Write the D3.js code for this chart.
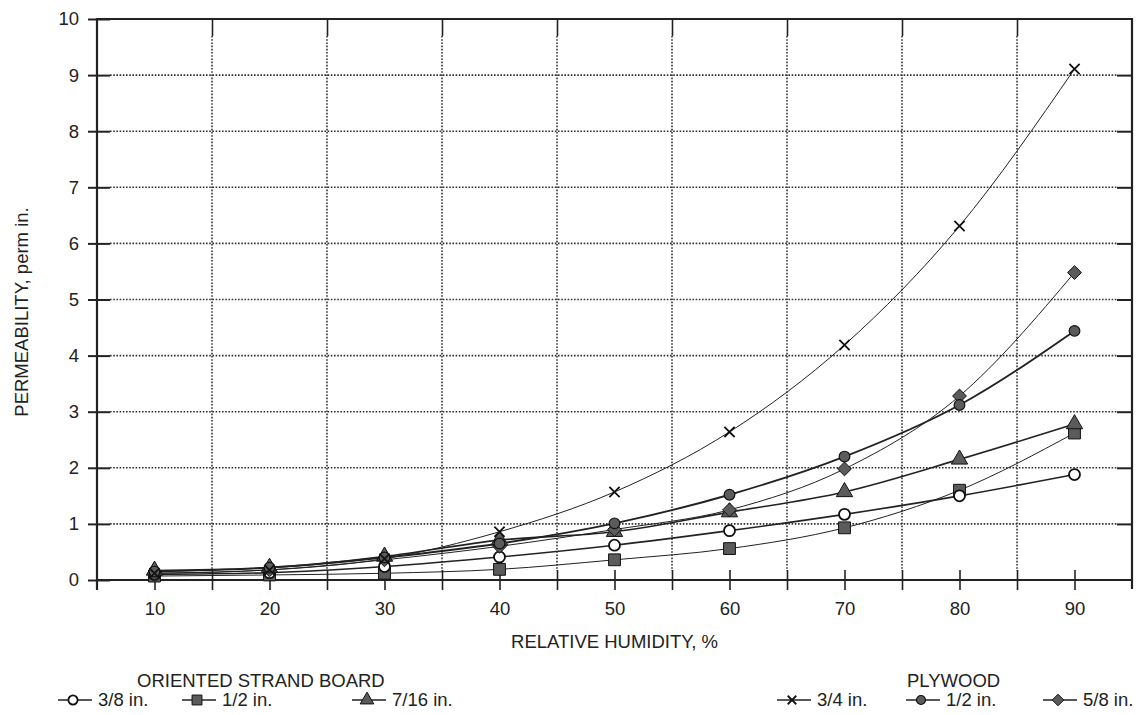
<!DOCTYPE html>
<html>
<head>
<meta charset="utf-8">
<script src="https://cdn.jsdelivr.net/npm/d3@7"></script>
<style>
  html, body { margin: 0; padding: 0; background: #fff; }
  svg { display: block; }
  text { font-family: "Liberation Sans", Arial, sans-serif; fill: #222; }
</style>
</head>
<body>
<svg id="chart" width="1140" height="715"></svg>
<script>
// Relative humidity (%) at which each material was measured
const humidity = [10, 20, 30, 40, 50, 60, 70, 80, 90];

// Permeability, perm in. — oriented strand board
const osb38  = [0.10, 0.13, 0.24, 0.41, 0.62, 0.88, 1.17, 1.50, 1.88];
const osb12  = [0.07, 0.09, 0.12, 0.19, 0.36, 0.56, 0.93, 1.60, 2.62];
const osb716 = [0.17, 0.22, 0.42, 0.71, 0.86, 1.21, 1.57, 2.15, 2.78];

// Permeability, perm in. — plywood
const ply34 = [0.12, 0.18, 0.38, 0.86, 1.57, 2.64, 4.19, 6.31, 9.11];
const ply12 = [0.15, 0.22, 0.40, 0.65, 1.01, 1.52, 2.20, 3.12, 4.44];
const ply58 = [0.12, 0.18, 0.36, 0.60, 0.90, 1.25, 1.98, 3.28, 5.48];

// Axis ticks and labels
const xLabelTicks = [10, 20, 30, 40, 50, 60, 70, 80, 90];
const xGridTicks  = [15, 25, 35, 45, 55, 65, 75, 85];
const yTicks      = [0, 1, 2, 3, 4, 5, 6, 7, 8, 9, 10];
const xTitle = "RELATIVE HUMIDITY, %";
const yTitle = "PERMEABILITY, perm in.";
const groupTitles = ["ORIENTED STRAND BOARD", "PLYWOOD"];

const seriesNames  = ["3/8 in.", "1/2 in.", "7/16 in.", "3/4 in.", "1/2 in.", "5/8 in."];
const seriesValues = [osb38, osb12, osb716, ply34, ply12, ply58];
const seriesGroup  = [0, 0, 0, 1, 1, 1];

// ---- drawing ----
const svg = d3.select("#chart");
const W = 1140, H = 715;
const pLeft = 97, pRight = 1132, pTop = 19, pBottom = 580;
const FONT = 18.5;
const ink = "#222";
const markFill = "#5b5b5b";

svg.append("rect").attr("width", W).attr("height", H).attr("fill", "#fff");

const x = d3.scaleLinear().domain([5, 95]).range([pLeft, pRight]);
const y = d3.scaleLinear().domain([0, 10]).range([pBottom, pTop]);

// a square turned on its corner (equal diagonals)
const symbolRhomb = {
  draw(ctx, size) {
    const r = Math.sqrt(size / 2);
    ctx.moveTo(0, -r); ctx.lineTo(r, 0); ctx.lineTo(0, r); ctx.lineTo(-r, 0); ctx.closePath();
  }
};

// marker style per series
const styles = [
  { sym: d3.symbolCircle,   size: 95,  fill: "#fff",   sw: 1.8, lw: 1.6 },
  { sym: d3.symbolSquare,   size: 140, fill: markFill, sw: 1.0, lw: 1.0 },
  { sym: d3.symbolTriangle, size: 115, fill: markFill, sw: 1.0, lw: 1.6 },
  { sym: d3.symbolTimes,    size: 70,  fill: "none",   sw: 1.8, lw: 1.0 },
  { sym: d3.symbolCircle,   size: 90,  fill: markFill, sw: 1.2, lw: 1.9 },
  { sym: symbolRhomb,       size: 95,  fill: markFill, sw: 1.0, lw: 1.0 }
];

// grid: dotted lines
const grid = svg.append("g").attr("stroke", "#333").attr("stroke-width", 1.6)
  .attr("stroke-dasharray", "1.6,1.6");
grid.selectAll("line.h").data(yTicks.filter(d => d > 0 && d < 10)).join("line")
  .attr("x1", pLeft + 13).attr("x2", pRight - 15)
  .attr("y1", d => y(d)).attr("y2", d => y(d));
grid.selectAll("line.v").data(xGridTicks).join("line")
  .attr("x1", d => x(d)).attr("x2", d => x(d))
  .attr("y1", pTop + 17).attr("y2", pBottom - 9);

// frame
svg.append("path")
  .attr("d", `M${pLeft},${pBottom + 10}V${pTop}H${pRight}V${pBottom + 9}`)
  .attr("fill", "none").attr("stroke", ink).attr("stroke-width", 2.2);

// bottom axis with labelled ticks
const xAxis = svg.append("g").attr("transform", `translate(0,${pBottom})`)
  .call(d3.axisBottom(x).tickValues(xLabelTicks).tickSize(10).tickPadding(12).tickFormat(d3.format("d")));
const xMinor = svg.append("g").attr("transform", `translate(0,${pBottom})`)
  .call(d3.axisBottom(x).tickValues(xGridTicks).tickSize(10).tickFormat(""));
[xAxis, xMinor].forEach(g => {
  g.select(".domain").attr("d", `M${pLeft},0H${pRight}`).attr("stroke", ink).attr("stroke-width", 2.2);
  g.selectAll(".tick line").attr("y1", -10).attr("stroke", ink).attr("stroke-width", 1.6);
});
xAxis.selectAll(".tick text").attr("font-size", FONT).attr("fill", ink).attr("font-family", "Liberation Sans, Arial, sans-serif");

// top ticks at grid positions
svg.append("g").attr("transform", `translate(0,${pTop})`)
  .call(d3.axisTop(x).tickValues(xGridTicks).tickSize(-17).tickFormat(""))
  .call(g => g.select(".domain").remove())
  .call(g => g.selectAll(".tick line").attr("stroke", ink).attr("stroke-width", 1.6));

// left axis
const yAxis = svg.append("g").attr("transform", `translate(${pLeft},0)`)
  .call(d3.axisLeft(y).tickValues(yTicks).tickSize(9).tickPadding(9).tickFormat(d3.format("d")));
yAxis.select(".domain").remove();
yAxis.selectAll(".tick line").attr("x1", 13).attr("stroke", ink).attr("stroke-width", 2);
yAxis.selectAll(".tick text").attr("font-size", FONT).attr("fill", ink).attr("font-family", "Liberation Sans, Arial, sans-serif");

// right inner ticks
svg.append("g").attr("transform", `translate(${pRight},0)`)
  .call(d3.axisRight(y).tickValues(yTicks.filter(d => d > 0 && d < 10)).tickSize(-15).tickFormat(""))
  .call(g => g.select(".domain").remove())
  .call(g => g.selectAll(".tick line").attr("stroke", ink).attr("stroke-width", 2));

// axis titles
svg.append("text").attr("x", (x(50))).attr("y", 648).attr("text-anchor", "middle")
  .attr("font-size", FONT).text(xTitle);
svg.append("text").attr("transform", `translate(28,312) rotate(-90)`).attr("text-anchor", "middle")
  .attr("font-size", FONT).text(yTitle);

// series lines
const line = d3.line().x(d => x(d[0])).y(d => y(d[1])).curve(d3.curveMonotoneX);
seriesValues.forEach((vals, i) => {
  svg.append("path")
    .attr("d", line(humidity.map((h, j) => [h, vals[j]])))
    .attr("fill", "none").attr("stroke", ink).attr("stroke-width", styles[i].lw);
});

// series markers
function drawMarker(g, i, cx, cy, scale) {
  const s = styles[i];
  g.append("path")
    .attr("d", d3.symbol(s.sym, s.size * scale)())
    .attr("transform", `translate(${cx},${cy})`)
    .attr("fill", s.fill)
    .attr("stroke", "#111")
    .attr("stroke-width", s.sw);
}
const marks = svg.append("g");
[1, 0, 2, 5, 4, 3].forEach(i => {
  seriesValues[i].forEach((v, j) => drawMarker(marks, i, x(humidity[j]), y(v), 1));
});

// legends
const legendX = [[58, 182, 352], [777, 906, 1043]];
const titleX = [137, 907];
groupTitles.forEach((t, gi) => {
  svg.append("text").attr("x", titleX[gi]).attr("y", 687).attr("font-size", FONT).text(t);
});
const groupCount = [0, 0];
seriesNames.forEach((name, i) => {
  const gi = seriesGroup[i];
  const k = groupCount[gi]++;
  const x0 = legendX[gi][k];
  const ly = 700;
  const lg = svg.append("g");
  lg.append("line").attr("x1", x0).attr("x2", x0 + 34).attr("y1", ly).attr("y2", ly)
    .attr("stroke", ink).attr("stroke-width", 1.6);
  drawMarker(lg, i, x0 + 15, ly, 0.7);
  lg.append("text").attr("x", x0 + 40).attr("y", 706).attr("font-size", FONT).text(name);
});
</script>
</body>
</html>
